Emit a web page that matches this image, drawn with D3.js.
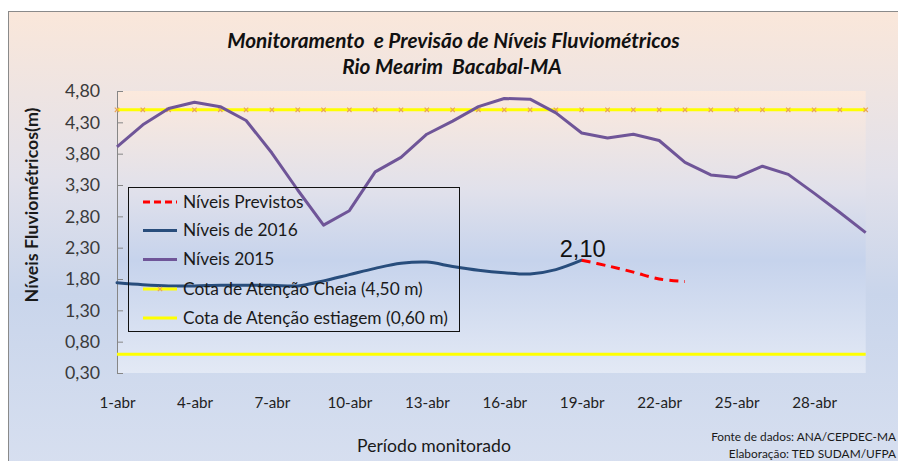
<!DOCTYPE html>
<html><head><meta charset="utf-8">
<script src="https://cdn.jsdelivr.net/npm/d3@7"></script>
<style>html,body{margin:0;padding:0;background:#fff;}svg{display:block;}</style>
</head><body>
<script>
// ---- data ----
const days = ["1-abr","2-abr","3-abr","4-abr","5-abr","6-abr","7-abr","8-abr","9-abr","10-abr",
  "11-abr","12-abr","13-abr","14-abr","15-abr","16-abr","17-abr","18-abr","19-abr","20-abr",
  "21-abr","22-abr","23-abr","24-abr","25-abr","26-abr","27-abr","28-abr","29-abr","30-abr"];
const tickDays = ["1-abr","4-abr","7-abr","10-abr","13-abr","16-abr","19-abr","22-abr","25-abr","28-abr"];
const yTicks = [0.30,0.80,1.30,1.80,2.30,2.80,3.30,3.80,4.30,4.80];
const niveis2015 = [3.91,4.26,4.52,4.62,4.55,4.33,3.81,3.22,2.66,2.89,3.51,3.74,4.11,4.32,4.55,
  4.68,4.67,4.45,4.13,4.05,4.11,4.01,3.66,3.46,3.42,3.60,3.47,3.17,2.86,2.54];
const dias2016 = days.slice(0,19);
const niveis2016 = [1.74,1.71,1.69,1.69,1.70,1.70,1.70,1.69,1.77,1.87,1.97,2.05,2.07,2.00,1.94,1.90,1.88,1.95,2.10];
const diasPrevistos = ["19-abr","20-abr","21-abr","22-abr","23-abr"];
const previstos = [2.10,2.01,1.91,1.80,1.76];
const cotaCheia = 4.50;
const cotaEstiagem = 0.60;
const rotuloValor = "2,10";
const legendLabels = ["Níveis Previstos","Níveis de 2016","Níveis 2015","Cota de Atenção Cheia (4,50 m)","Cota de Atenção estiagem (0,60 m)"];

// ---- drawing ----
const W=898,H=461;
const svg=d3.select("body").append("svg").attr("width",W).attr("height",H);
const defs=svg.append("defs");
const g1=defs.append("linearGradient").attr("id","bgOuter").attr("x1",0).attr("y1",0).attr("x2",0).attr("y2",1);
[[0,"#fae7da"],[0.35,"#e2e1ea"],[0.6,"#c9d5eb"],[1,"#d8e0f0"]].forEach(s=>g1.append("stop").attr("offset",s[0]).attr("stop-color",s[1]));
const g2=defs.append("linearGradient").attr("id","bgPlot").attr("x1",0).attr("y1",0).attr("x2",0).attr("y2",1);
[[0,"#fce9dc"],[0.35,"#e1e1eb"],[0.6,"#c6d3ec"],[1,"#e3e9f5"]].forEach(s=>g2.append("stop").attr("offset",s[0]).attr("stop-color",s[1]));

svg.append("rect").attr("x",8.5).attr("y",11.5).attr("width",W+10).attr("height",H+10)
  .attr("fill","url(#bgOuter)").attr("stroke","#8a8a8a").attr("stroke-width",1);

const L=117,R=865.7,T=91,B=373;
svg.append("rect").attr("x",L).attr("y",T).attr("width",R-L).attr("height",B-T).attr("fill","url(#bgPlot)");

const x=d3.scalePoint().domain(days).range([L,R]);
const y=d3.scaleLinear().domain([0.3,4.8]).range([B,T]);
const fmt=v=>d3.format(".2f")(v).replace(".",",");
const sans="Lato, 'Open Sans', sans-serif";

function fit(sel,w){const n=sel.node();const fs=parseFloat(sel.attr("font-size"));const l=n.getComputedTextLength();sel.attr("font-size",fs*w/l);return fs*w/l;}

// y axis
const ya=svg.append("g").attr("transform",`translate(${L},0)`)
  .call(d3.axisLeft(y).tickValues(yTicks).tickFormat(fmt).tickSize(-6).tickPadding(17));
ya.select(".domain").attr("stroke","#868686");
ya.selectAll(".tick line").attr("stroke","#868686");
ya.selectAll("text").attr("font-family",sans).attr("font-size",17).attr("fill","#3a3a3a");
const yfs=fit(ya.select(".tick:last-of-type text"),35);
ya.selectAll("text").attr("font-size",yfs);

// x axis labels
const xa=svg.append("g").attr("transform",`translate(0,${B})`)
  .call(d3.axisBottom(x).tickValues(tickDays).tickSize(0).tickPadding(24));
xa.select(".domain").remove();
xa.selectAll("text").attr("font-family",sans).attr("font-size",17).attr("fill","#222");
const xfs=fit(xa.select(".tick text"),36);
xa.selectAll("text").attr("font-size",xfs);

// reference lines
svg.append("line").attr("x1",L).attr("x2",R).attr("y1",y(cotaEstiagem)).attr("y2",y(cotaEstiagem))
  .attr("stroke","#ffff00").attr("stroke-width",3);
svg.append("line").attr("x1",L).attr("x2",R).attr("y1",y(cotaCheia)).attr("y2",y(cotaCheia))
  .attr("stroke","#ffff00").attr("stroke-width",3);
const xsym=d3.symbol().type(d3.symbolX).size(14);
svg.append("g").selectAll("path").data(days).join("path")
  .attr("d",xsym).attr("transform",d=>`translate(${x(d)},${y(cotaCheia)})`)
  .attr("fill","none").attr("stroke","#e8a35a").attr("stroke-width",1.2);

// series
const line=d3.line().x(d=>x(d[0])).y(d=>y(d[1]));
svg.append("path").datum(days.map((d,i)=>[d,niveis2015[i]])).attr("d",line)
  .attr("fill","none").attr("stroke","#6f5598").attr("stroke-width",3).attr("stroke-linejoin","round");
const smooth=d3.line().x(d=>x(d[0])).y(d=>y(d[1])).curve(d3.curveCatmullRom.alpha(0));
svg.append("path").datum(dias2016.map((d,i)=>[d,niveis2016[i]])).attr("d",smooth)
  .attr("fill","none").attr("stroke","#284d7c").attr("stroke-width",3).attr("stroke-linecap","round");
svg.append("path").datum(diasPrevistos.map((d,i)=>[d,previstos[i]])).attr("d",smooth)
  .attr("fill","none").attr("stroke","#ff0000").attr("stroke-width",3).attr("stroke-dasharray","9,6");

// data label
const lbl=svg.append("text").attr("x",x("19-abr")+1).attr("y",y(previstos[0])-3)
  .attr("text-anchor","middle").attr("font-family","'Liberation Sans', Arial, sans-serif")
  .attr("font-size",22).attr("fill","#111").text(rotuloValor);
fit(lbl,46);

// legend
const lg=svg.append("g");
lg.append("rect").attr("x",128.5).attr("y",187.5).attr("width",331).attr("height",144)
  .attr("fill","none").attr("stroke","#111").attr("stroke-width",1);
const rowY=[202,230.5,259.5,289,318];
const styles=[{c:"#ff0000",dash:"7,4"},{c:"#284d7c"},{c:"#6f5598"},{c:"#ffff00",mk:true},{c:"#ffff00"}];
legendLabels.forEach((t,i)=>{
  const s=styles[i];
  lg.append("line").attr("x1",143).attr("x2",177).attr("y1",rowY[i]).attr("y2",rowY[i])
    .attr("stroke",s.c).attr("stroke-width",3).attr("stroke-dasharray",s.dash||null);
  if(s.mk) lg.append("path").attr("d",xsym).attr("transform",`translate(160,${rowY[i]})`)
    .attr("fill","none").attr("stroke","#e8a35a").attr("stroke-width",1.2);
});
const ltexts=lg.selectAll("text.lg").data(legendLabels).join("text").attr("class","lg")
  .attr("x",183).attr("y",(d,i)=>rowY[i]+5.5).attr("font-family",sans).attr("font-size",17)
  .attr("fill","#1a1a1a").text(d=>d);
const lfs=fit(d3.select(ltexts.nodes()[4]),265);
ltexts.attr("font-size",lfs);

// titles
const t1=svg.append("text").attr("x",453.5).attr("y",48).attr("text-anchor","middle")
  .attr("font-family",sans).attr("font-weight","bold").attr("font-style","italic")
  .attr("font-size",18).attr("fill","#111").style("white-space","pre")
  .text("Monitoramento  e Previsão de Níveis Fluviométricos");
const tfs=fit(t1,453);
svg.append("text").attr("x",452).attr("y",74).attr("text-anchor","middle")
  .attr("font-family",sans).attr("font-weight","bold").attr("font-style","italic")
  .attr("font-size",tfs).attr("fill","#111").style("white-space","pre")
  .text("Rio Mearim  Bacabal-MA");

// axis titles
const yt=svg.append("text").attr("transform","translate(38,205) rotate(-90)").attr("text-anchor","middle")
  .attr("font-family",sans).attr("font-weight","bold").attr("font-size",15).attr("fill","#1a1a1a")
  .text("Níveis Fluviométricos(m)");
fit(yt,195);
const xt=svg.append("text").attr("x",434).attr("y",452).attr("text-anchor","middle")
  .attr("font-family",sans).attr("font-size",16).attr("fill","#1a1a1a").text("Período monitorado");
fit(xt,154);

// source
const s1=svg.append("text").attr("x",0).attr("y",441).attr("font-family",sans).attr("font-size",11)
  .attr("fill","#1a1a1a").style("white-space","pre").text("Fonte de dados: ");
const sfs=fit(s1,86);
s1.attr("x",896).attr("text-anchor","end").text("Fonte de dados: ANA/CEPDEC-MA");
svg.append("text").attr("x",896).attr("y",458).attr("text-anchor","end").attr("font-family",sans).attr("font-size",sfs)
  .attr("fill","#1a1a1a").text("Elaboração: TED SUDAM/UFPA");
</script>
</body></html>
